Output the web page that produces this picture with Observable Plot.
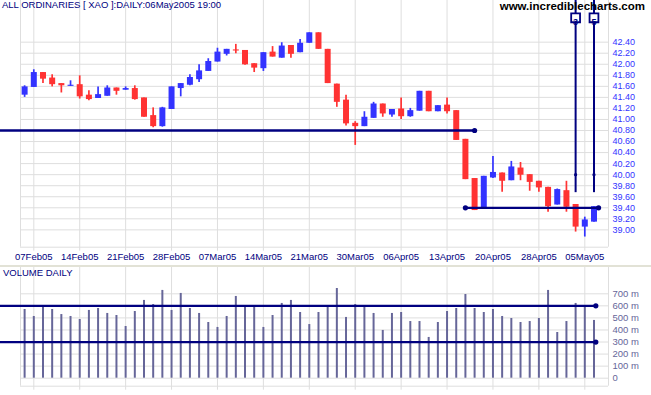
<!DOCTYPE html>
<html><head><meta charset="utf-8">
<script src="https://cdn.jsdelivr.net/npm/d3@7"></script>
<script src="https://cdn.jsdelivr.net/npm/@observablehq/plot@0.6"></script>
<style>
body{margin:0;background:#fff;}
#wrap{position:relative;width:651px;height:395px;overflow:hidden;font-family:"Liberation Sans",Arial,sans-serif;background:#fff;}
.lbl{position:absolute;white-space:nowrap;line-height:1;}
</style></head><body>
<div id="wrap">
 <div id="price" style="position:absolute;left:0;top:0"></div>
 <div style="position:absolute;left:0;top:265px;width:651px;height:2px;background:#e2e2d6"></div>
 <div id="vol" style="position:absolute;left:0;top:267px"></div>
 <div class="lbl" id="title" style="left:2px;top:0px;font-size:9.5px;color:#000080"></div>
 <div class="lbl" id="site" style="right:6px;top:1px;font-size:11.5px;font-weight:bold;color:#000"></div>
 <div class="lbl" id="vtitle" style="left:3px;top:268px;font-size:9.5px;color:#000080"></div>
</div>
<script>
const titleText = "ALL ORDINARIES [ XAO ]:DAILY:06May2005 19:00";
const siteText = "www.incrediblecharts.com";
const volumeTitle = "VOLUME DAILY";

const days = ["04Feb05",
 "07Feb05","08Feb05","09Feb05","10Feb05","11Feb05",
 "14Feb05","15Feb05","16Feb05","17Feb05","18Feb05",
 "21Feb05","22Feb05","23Feb05","24Feb05","25Feb05",
 "28Feb05","01Mar05","02Mar05","03Mar05","04Mar05",
 "07Mar05","08Mar05","09Mar05","10Mar05","11Mar05",
 "14Mar05","15Mar05","16Mar05","17Mar05","18Mar05",
 "21Mar05","22Mar05","23Mar05","24Mar05","29Mar05",
 "30Mar05","31Mar05","01Apr05","04Apr05","05Apr05",
 "06Apr05","07Apr05","08Apr05","11Apr05","12Apr05",
 "13Apr05","14Apr05","15Apr05","18Apr05","19Apr05",
 "20Apr05","21Apr05","22Apr05","26Apr05","27Apr05",
 "28Apr05","29Apr05","02May05","03May05","04May05",
 "05May05","06May05"];

const open  = [41.44,41.58,41.85,41.75,41.65,41.60,41.63,41.44,41.38,41.42,41.57,41.53,41.56,41.39,41.07,40.87,41.18,41.56,41.62,41.72,41.87,42.04,42.18,42.26,42.25,42.01,41.92,42.22,42.11,42.34,42.21,42.38,42.57,42.27,41.64,41.35,40.93,40.87,41.02,41.28,41.08,41.19,41.05,41.15,41.51,41.14,41.26,41.16,40.64,39.93,39.37,39.94,40.03,39.89,40.12,40.00,39.88,39.77,39.45,39.71,39.46,39.05,39.14];
const high  = [41.61,41.90,41.85,41.81,41.65,41.70,41.79,41.52,41.59,41.61,41.57,41.59,41.61,41.39,41.21,41.22,41.59,41.65,41.81,41.99,42.10,42.29,42.27,42.36,42.25,42.01,42.21,42.32,42.39,42.34,42.45,42.57,42.57,42.27,41.64,41.44,40.96,41.14,41.31,41.28,41.18,41.39,41.20,41.51,41.51,41.25,41.39,41.16,40.64,39.93,39.97,40.33,40.03,40.24,40.22,40.00,39.88,39.77,39.74,39.88,39.46,39.23,39.42];
const low   = [41.40,41.58,41.65,41.59,41.48,41.60,41.37,41.34,41.38,41.42,41.44,41.53,41.35,41.04,40.85,40.86,41.18,41.41,41.61,41.67,41.87,42.04,42.15,42.19,41.98,41.85,41.87,42.13,42.11,42.11,42.21,42.38,42.27,41.65,41.22,40.88,40.53,40.87,41.02,41.04,41.04,41.00,41.04,41.15,41.14,41.14,41.10,40.62,39.91,39.35,39.37,39.93,39.68,39.89,39.89,39.70,39.68,39.32,39.45,39.32,38.96,38.87,39.14];
const close = [41.59,41.85,41.73,41.63,41.61,41.62,41.41,41.36,41.45,41.57,41.51,41.56,41.36,41.04,40.87,41.21,41.59,41.65,41.76,41.88,42.05,42.22,42.27,42.24,41.99,41.93,42.21,42.13,42.33,42.18,42.38,42.57,42.27,41.65,41.31,40.92,40.87,41.04,41.28,41.10,41.18,41.05,41.16,41.51,41.14,41.25,41.14,40.62,39.91,39.35,39.97,40.04,39.88,40.14,39.99,39.86,39.76,39.42,39.73,39.41,39.05,39.18,39.42];
const volume = [570,512,595,570,528,512,487,562,578,537,520,429,553,645,611,728,562,703,578,537,462,421,512,678,595,589,421,520,620,645,545,445,545,595,744,504,611,589,537,396,537,545,470,470,338,462,553,578,694,578,545,570,512,495,462,470,495,728,379,470,620,595,479];

const tickLabels = ["07Feb05","14Feb05","21Feb05","28Feb05","07Mar05","14Mar05","21Mar05","30Mar05","06Apr05","13Apr05","20Apr05","28Apr05","05May05"];
const priceTicks = [39.0,39.2,39.4,39.6,39.8,40.0,40.2,40.4,40.6,40.8,41.0,41.2,41.4,41.6,41.8,42.0,42.2,42.4];
const volumeTicks = [0,100,200,300,400,500,600,700];

// horizontal support / resistance lines (price level, from day index, to day index)
const priceLines = [
  {level: 40.80, from: -4, to: 49, dotFrom: false},
  {level: 39.40, from: 48, to: 62.5, dotFrom: true}
];
const volumeLines = [
  {level: 600, from: -4, to: 62.2},
  {level: 300, from: -4, to: 62.2}
];
// cycle markers
const markerLabels = ["3","5"];
const markerDays = ["04May05","06May05"];
const markerLevel = 40.00;

// ---------- build ----------
const navy = "#000080", gridC = "#dedede";
const upC = "#3333ff", downC = "#ff3333";
const candles = days.map((d, i) => ({i, day: d, open: open[i], high: high[i], low: low[i], close: close[i], vol: volume[i]}));
const tickIdx = tickLabels.map(t => days.indexOf(t));
const markers = markerLabels.map((l, k) => ({label: l, i: days.indexOf(markerDays[k]), level: markerLevel}));
const pEnds = [];
priceLines.forEach(l => { pEnds.push({x: l.to, y: l.level}); if (l.dotFrom) pEnds.push({x: l.from, y: l.level}); });
const vEnds = volumeLines.map(l => ({x: l.to, y: l.level}));

const xDomain = [-0.448, 63.581];
const pDomain = [38.686, 43.155];
const vDomain = [-66.35, 918.1];
const col = d => d.close >= d.open ? upC : downC;

const priceChart = Plot.plot({
  width: 651, height: 262,
  marginLeft: 20, marginRight: 43, marginTop: 0, marginBottom: 15.3,
  style: {fontFamily: "'Liberation Sans', Arial, sans-serif", fontSize: "9.5px", background: "transparent", overflow: "visible"},
  x: {type: "linear", domain: xDomain},
  y: {domain: pDomain},
  marks: [
    Plot.ruleY(priceTicks, {stroke: gridC}),
    Plot.ruleX(tickIdx, {stroke: gridC, insetBottom: -4}),
    Plot.ruleX(xDomain, {stroke: gridC}),
    Plot.ruleY([pDomain[0]], {stroke: gridC}),
    Plot.ruleX(candles, {x: "i", y1: "low", y2: "high", stroke: col, strokeWidth: 1.7}),
    Plot.ruleX(candles, {x: "i", y1: "open", y2: "close", stroke: col, strokeWidth: 6}),
    Plot.ruleY(priceLines, {y: "level", x1: "from", x2: "to", stroke: navy, strokeWidth: 2.3}),
    Plot.dot(pEnds, {x: "x", y: "y", r: 2.6, fill: navy}),
    Plot.ruleX(markers, {x: "i", y1: "level", y2: () => pDomain[1], insetTop: 18, stroke: navy, strokeWidth: 2}),
    Plot.dot(markers, {x: "i", y: "level", r: 1.6, fill: navy}),
    Plot.dot(markers, {x: "i", frameAnchor: "top", dy: 17.3, symbol: "square", r: 5, fill: "white", stroke: navy, strokeWidth: 1.8}),
    Plot.text(markers, {x: "i", frameAnchor: "top", dy: 17.8, text: "label", fill: navy, fontSize: 9, fontWeight: "bold"}),
    Plot.axisY({anchor: "right", ticks: priceTicks, tickFormat: d => d.toFixed(2), tickSize: 0, tickPadding: 4, color: upC, fontSize: 9, label: null}),
    Plot.axisX({ticks: tickIdx, tickFormat: i => days[i], tickSize: 0, tickPadding: 6.5, color: navy, label: null})
  ]
});
document.getElementById("price").appendChild(priceChart);

const volChart = Plot.plot({
  width: 651, height: 128,
  marginLeft: 20, marginRight: 43, marginTop: 0, marginBottom: 9.3,
  style: {fontFamily: "'Liberation Sans', Arial, sans-serif", fontSize: "9.5px", background: "transparent", overflow: "visible"},
  x: {type: "linear", domain: xDomain, axis: null},
  y: {domain: vDomain},
  marks: [
    Plot.ruleY(volumeTicks, {stroke: gridC}),
    Plot.ruleX(tickIdx, {stroke: gridC, insetBottom: -4}),
    Plot.ruleX(xDomain, {stroke: gridC}),
    Plot.ruleY([vDomain[0]], {stroke: gridC}),
    Plot.ruleX(candles, {x: "i", y1: 0, y2: "vol", stroke: "#666699", strokeWidth: 2}),
    Plot.ruleY(volumeLines, {y: "level", x1: "from", x2: "to", stroke: navy, strokeWidth: 2.3}),
    Plot.dot(vEnds, {x: "x", y: "y", r: 2.6, fill: navy}),
    Plot.axisY({anchor: "right", ticks: volumeTicks, tickFormat: d => d === 0 ? "0" : d + " m", tickSize: 0, tickPadding: 4, color: "#666699", label: null})
  ]
});
document.getElementById("vol").appendChild(volChart);

document.getElementById("title").textContent = titleText;
document.getElementById("site").textContent = siteText;
document.getElementById("vtitle").textContent = volumeTitle;
</script>
</body></html>
